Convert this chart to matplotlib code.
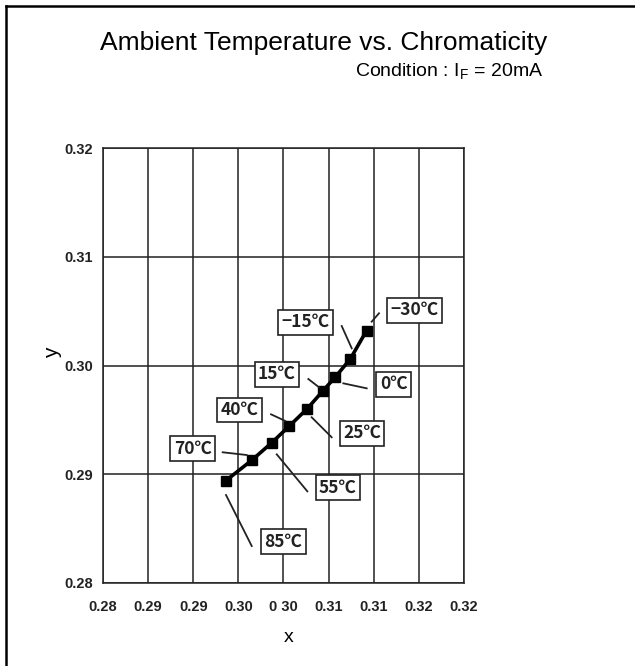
import matplotlib
matplotlib.use('Agg')
import matplotlib.pyplot as plt
from matplotlib.lines import Line2D

# chromaticity (x, y) per ambient temperature
temps = ['−30℃', '−15℃', '0℃', '15℃', '25℃', '40℃', '55℃', '70℃', '85℃']
cx = [0.3092, 0.3074, 0.3057, 0.3044, 0.3026, 0.3006, 0.2987, 0.2965, 0.2936]
cy = [0.3032, 0.3006, 0.2989, 0.2977, 0.2960, 0.2944, 0.2929, 0.2913, 0.2894]

xticks = [0.280, 0.285, 0.290, 0.295, 0.300, 0.305, 0.310, 0.315, 0.320]
xticklabels = ['0.28', '0.29', '0.29', '0.30', '0 30', '0.31', '0.31', '0.32', '0.32']
yticks = [0.28, 0.29, 0.30, 0.31, 0.32]
yticklabels = ['0.28', '0.29', '0.30', '0.31', '0.32']

# label box centre and leader line (start, end) in data coords
label_pos = [
    (0.31449, 0.30510, (0.30977, 0.30403), (0.31058, 0.30480)),
    (0.30246, 0.30397, (0.30645, 0.30363), (0.30756, 0.30158)),
    (0.31221, 0.29827, (0.30663, 0.29836), (0.30922, 0.29790)),
    (0.29928, 0.29919, (0.30275, 0.29876), (0.30393, 0.29800)),
    (0.30870, 0.29379, (0.30312, 0.29524), (0.30534, 0.29340)),
    (0.29510, 0.29591, (0.29862, 0.29551), (0.30020, 0.29490)),
    (0.30604, 0.28876, (0.29925, 0.29183), (0.30264, 0.28843)),
    (0.28994, 0.29237, (0.29326, 0.29202), (0.29592, 0.29177)),
    (0.29998, 0.28380, (0.29363, 0.28809), (0.29648, 0.28340)),
]

fig = plt.figure(figsize=(6.35, 6.66), dpi=100)
fig.patch.set_facecolor('white')

# page border (left and top edges only)
fig.add_artist(Line2D([6 / 635, 6 / 635], [0, 1 - 6 / 666], transform=fig.transFigure,
                      color='black', lw=1.8))
fig.add_artist(Line2D([6 / 635, 1], [1 - 6 / 666, 1 - 6 / 666], transform=fig.transFigure,
                      color='black', lw=1.8))

fig.text(324 / 635, 1 - 43 / 666, 'Ambient Temperature vs. Chromaticity',
         ha='center', va='center', fontsize=19, family='Liberation Sans')
fig.text(543 / 635, 1 - 72 / 666, r'Condition : I$_\mathregular{F}$ = 20mA',
         ha='right', va='center', fontsize=14, family='Liberation Sans')

ax = fig.add_axes([103 / 635, 1 - 583 / 666, 361 / 635, 435 / 666])
ax.set_xlim(0.28, 0.32)
ax.set_ylim(0.28, 0.32)
ax.set_xticks(xticks)
ax.set_xticklabels(xticklabels)
ax.set_yticks(yticks)
ax.set_yticklabels(yticklabels)
for lab in ax.get_xticklabels() + ax.get_yticklabels():
    lab.set_family(['Liberation Sans Narrow', 'Liberation Sans'])
    lab.set_fontweight('bold')
    lab.set_fontsize(10.5)
    lab.set_color('#222222')
ax.tick_params(axis='x', length=0, pad=12)
ax.tick_params(axis='y', length=0, pad=7)
ax.grid(True, color='#222222', lw=1.1)
for sp in ax.spines.values():
    sp.set_color('#222222')
    sp.set_linewidth(1.1)

ax.plot(cx, cy, color='black', lw=2.6, marker='s', markersize=6.5, zorder=3)

for name, (bx, by, p0, p1) in zip(temps, label_pos):
    ax.plot([p0[0], p1[0]], [p0[1], p1[1]], color='#222222', lw=1.3, zorder=3)
    ax.text(bx, by, name, ha='center', va='center', fontsize=12.5, fontweight='bold',
            family=['Noto Sans CJK JP', 'DejaVu Sans'], color='#222222', zorder=4,
            bbox=dict(boxstyle='square,pad=0.2', fc='white', ec='#222222', lw=1.2))

fig.text(289 / 635, 1 - 638 / 666, 'x', ha='center', va='center', fontsize=14,
         family='Liberation Sans')
fig.text(53 / 635, 1 - 353 / 666, 'y', ha='center', va='center', fontsize=15,
         family='Liberation Sans', rotation=90)

fig.savefig('out.png', dpi=100, facecolor='white')
